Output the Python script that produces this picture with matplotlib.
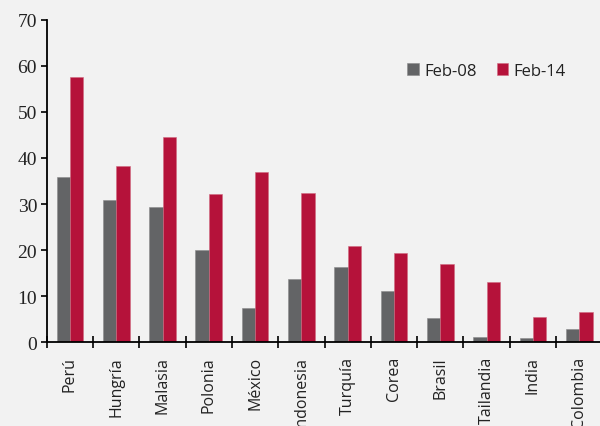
import matplotlib
matplotlib.use("Agg")
import matplotlib.pyplot as plt
import numpy as np

categories = ["Perú", "Hungría", "Malasia", "Polonia", "México", "Indonesia",
              "Turquía", "Corea", "Brasil", "Tailandia", "India", "Colombia"]
feb08 = [35.8, 30.9, 29.3, 20.0, 7.4, 13.7, 16.4, 11.2, 5.3, 1.15, 0.95, 2.9]
feb14 = [57.5, 38.3, 44.5, 32.2, 36.9, 32.4, 21.0, 19.3, 17.1, 13.1, 5.6, 6.5]
series_labels = ["Feb-08", "Feb-14"]
yticks = [0, 10, 20, 30, 40, 50, 60, 70]

bg = "#F2F2F2"
gray = "#636466"
red = "#B5123A"

fig = plt.figure(figsize=(6, 4.27), dpi=100, facecolor=bg)
ax = fig.add_axes([0.078, 0.196, 0.922, 0.7555], facecolor=bg)

x = np.arange(len(categories))
w = 0.288
ax.bar(x - w / 2, feb08, width=w, color=gray, label=series_labels[0],
       edgecolor="#8a8a8c", linewidth=0.4)
ax.bar(x + w / 2, feb14, width=w, color=red, label=series_labels[1],
       edgecolor="#d06a80", linewidth=0.4)

ax.set_ylim(0, 70)
ax.set_xlim(-0.5, 11.45)
ax.set_yticks(yticks)
ax.set_yticklabels([str(t) for t in yticks], fontfamily="Liberation Serif",
                   fontsize=14, color="#222222")

ax.set_xticks(x)
ax.set_xticklabels(categories, rotation=90, fontfamily="Open Sans",
                   fontsize=11.5, color="#222222", va="top", ha="center")
ax.tick_params(axis="x", which="major", length=0, pad=10)
ax.set_xticks(np.arange(len(categories)) - 0.5, minor=True)
ax.tick_params(axis="x", which="minor", direction="inout", length=8,
               width=1.2, color="black")
ax.tick_params(axis="y", direction="out", length=4, width=1.2, color="black",
               pad=3)

for s in ["top", "right"]:
    ax.spines[s].set_visible(False)
ax.spines["left"].set_linewidth(1.3)
ax.spines["bottom"].set_linewidth(1.3)

leg = ax.legend(loc="center left", bbox_to_anchor=(0.652, 0.841), ncol=2,
                frameon=False, prop={"family": "Open Sans", "size": 12},
                handlelength=0.7, handleheight=0.7, handletextpad=0.3,
                columnspacing=1.2, borderaxespad=0, borderpad=0)
for t in leg.get_texts():
    t.set_color("#222222")

fig.savefig("out.png", dpi=100, facecolor=bg)
